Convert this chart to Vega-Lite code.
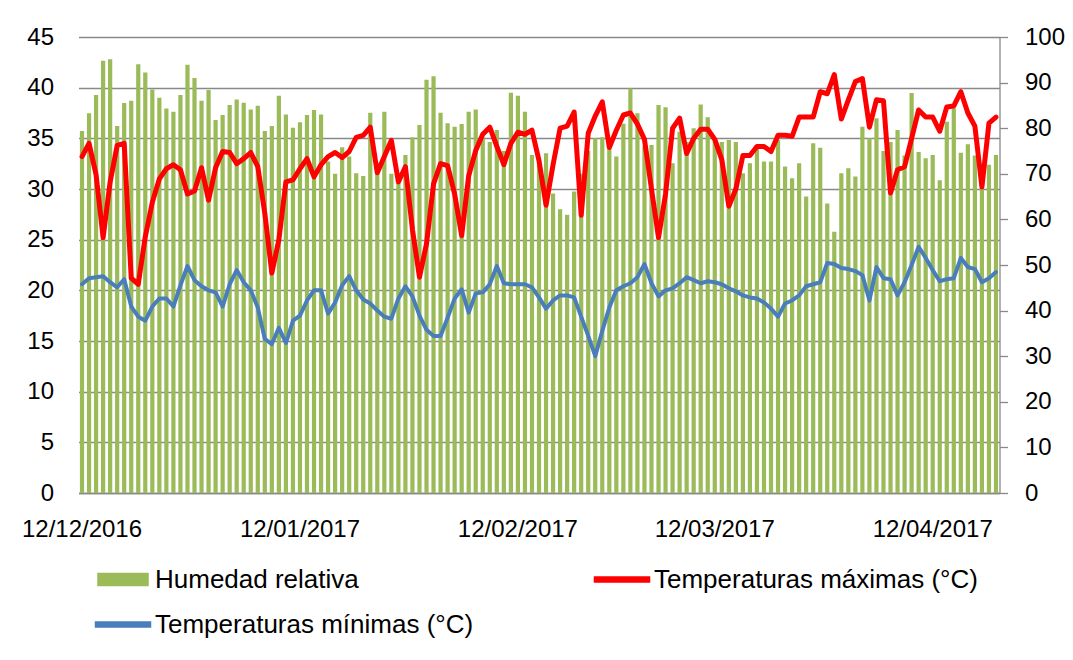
{
  "$schema": "https://vega.github.io/schema/vega-lite/v6.json",
  "width": 921,
  "height": 456,
  "autosize": {"type": "none"},
  "padding": {"left": 78.5, "top": 37, "right": 73.5, "bottom": 167},
  "background": "white",
  "config": {
    "view": {"stroke": null},
    "font": "Liberation Sans",
    "axis": {"labelFont": "Liberation Sans", "labelColor": "#000000", "labelFontSize": 24, "title": null}
  },
  "data": {
    "values": [
      {"fecha": "12/12/2016", "hr": 79.4, "tmax": 33.2, "tmin": 20.6},
      {"fecha": "13/12/2016", "hr": 83.3, "tmax": 34.5, "tmin": 21.2},
      {"fecha": "14/12/2016", "hr": 87.3, "tmax": 31.4, "tmin": 21.3},
      {"fecha": "15/12/2016", "hr": 94.8, "tmax": 25.2, "tmin": 21.4},
      {"fecha": "16/12/2016", "hr": 95.1, "tmax": 30.7, "tmin": 20.8},
      {"fecha": "17/12/2016", "hr": 80.5, "tmax": 34.3, "tmin": 20.3},
      {"fecha": "18/12/2016", "hr": 85.5, "tmax": 34.5, "tmin": 21.1},
      {"fecha": "19/12/2016", "hr": 86.0, "tmax": 21.2, "tmin": 18.4},
      {"fecha": "20/12/2016", "hr": 94.0, "tmax": 20.6, "tmin": 17.4},
      {"fecha": "21/12/2016", "hr": 92.2, "tmax": 25.3, "tmin": 17.0},
      {"fecha": "22/12/2016", "hr": 88.5, "tmax": 28.7, "tmin": 18.4},
      {"fecha": "23/12/2016", "hr": 86.7, "tmax": 31.0, "tmin": 19.2},
      {"fecha": "24/12/2016", "hr": 84.3, "tmax": 32.0, "tmin": 19.2},
      {"fecha": "25/12/2016", "hr": 83.6, "tmax": 32.4, "tmin": 18.4},
      {"fecha": "26/12/2016", "hr": 87.3, "tmax": 31.9, "tmin": 20.5},
      {"fecha": "27/12/2016", "hr": 93.9, "tmax": 29.5, "tmin": 22.4},
      {"fecha": "28/12/2016", "hr": 91.0, "tmax": 29.8, "tmin": 21.0},
      {"fecha": "29/12/2016", "hr": 86.0, "tmax": 32.1, "tmin": 20.4},
      {"fecha": "30/12/2016", "hr": 88.4, "tmax": 28.9, "tmin": 20.0},
      {"fecha": "31/12/2016", "hr": 81.8, "tmax": 32.1, "tmin": 19.8},
      {"fecha": "01/01/2017", "hr": 82.9, "tmax": 33.7, "tmin": 18.4},
      {"fecha": "02/01/2017", "hr": 85.1, "tmax": 33.6, "tmin": 20.6},
      {"fecha": "03/01/2017", "hr": 86.3, "tmax": 32.5, "tmin": 22.0},
      {"fecha": "04/01/2017", "hr": 85.6, "tmax": 33.0, "tmin": 20.8},
      {"fecha": "05/01/2017", "hr": 84.1, "tmax": 33.6, "tmin": 20.0},
      {"fecha": "06/01/2017", "hr": 84.9, "tmax": 32.2, "tmin": 18.3},
      {"fecha": "07/01/2017", "hr": 79.4, "tmax": 27.6, "tmin": 15.2},
      {"fecha": "08/01/2017", "hr": 80.5, "tmax": 21.7, "tmin": 14.7},
      {"fecha": "09/01/2017", "hr": 87.1, "tmax": 25.0, "tmin": 16.3},
      {"fecha": "10/01/2017", "hr": 83.0, "tmax": 30.7, "tmin": 14.8},
      {"fecha": "11/01/2017", "hr": 80.1, "tmax": 30.9, "tmin": 17.0},
      {"fecha": "12/01/2017", "hr": 81.3, "tmax": 32.0, "tmin": 17.5},
      {"fecha": "13/01/2017", "hr": 82.9, "tmax": 33.0, "tmin": 19.0},
      {"fecha": "14/01/2017", "hr": 84.0, "tmax": 31.2, "tmin": 20.0},
      {"fecha": "15/01/2017", "hr": 83.0, "tmax": 32.4, "tmin": 20.0},
      {"fecha": "16/01/2017", "hr": 72.7, "tmax": 33.2, "tmin": 17.7},
      {"fecha": "17/01/2017", "hr": 70.0, "tmax": 33.6, "tmin": 18.8},
      {"fecha": "18/01/2017", "hr": 75.8, "tmax": 33.1, "tmin": 20.5},
      {"fecha": "19/01/2017", "hr": 73.8, "tmax": 33.7, "tmin": 21.4},
      {"fecha": "20/01/2017", "hr": 70.1, "tmax": 35.1, "tmin": 20.0},
      {"fecha": "21/01/2017", "hr": 69.5, "tmax": 35.3, "tmin": 19.1},
      {"fecha": "22/01/2017", "hr": 83.4, "tmax": 36.1, "tmin": 18.7},
      {"fecha": "23/01/2017", "hr": 70.0, "tmax": 31.6, "tmin": 18.0},
      {"fecha": "24/01/2017", "hr": 83.6, "tmax": 33.2, "tmin": 17.4},
      {"fecha": "25/01/2017", "hr": 70.0, "tmax": 34.8, "tmin": 17.2},
      {"fecha": "26/01/2017", "hr": 69.0, "tmax": 30.7, "tmin": 19.2},
      {"fecha": "27/01/2017", "hr": 74.1, "tmax": 32.2, "tmin": 20.4},
      {"fecha": "28/01/2017", "hr": 78.0, "tmax": 26.0, "tmin": 19.4},
      {"fecha": "29/01/2017", "hr": 80.7, "tmax": 21.3, "tmin": 17.5},
      {"fecha": "30/01/2017", "hr": 90.6, "tmax": 24.6, "tmin": 16.1},
      {"fecha": "31/01/2017", "hr": 91.4, "tmax": 30.5, "tmin": 15.5},
      {"fecha": "01/02/2017", "hr": 83.4, "tmax": 32.5, "tmin": 15.5},
      {"fecha": "02/02/2017", "hr": 81.1, "tmax": 32.3, "tmin": 17.3},
      {"fecha": "03/02/2017", "hr": 80.3, "tmax": 29.5, "tmin": 19.2},
      {"fecha": "04/02/2017", "hr": 80.9, "tmax": 25.4, "tmin": 20.1},
      {"fecha": "05/02/2017", "hr": 83.6, "tmax": 31.3, "tmin": 17.8},
      {"fecha": "06/02/2017", "hr": 84.1, "tmax": 33.8, "tmin": 19.7},
      {"fecha": "07/02/2017", "hr": 78.0, "tmax": 35.4, "tmin": 19.8},
      {"fecha": "08/02/2017", "hr": 77.0, "tmax": 36.1, "tmin": 20.6},
      {"fecha": "09/02/2017", "hr": 79.6, "tmax": 34.2, "tmin": 22.4},
      {"fecha": "10/02/2017", "hr": 75.0, "tmax": 32.4, "tmin": 20.7},
      {"fecha": "11/02/2017", "hr": 87.8, "tmax": 34.5, "tmin": 20.6},
      {"fecha": "12/02/2017", "hr": 87.1, "tmax": 35.6, "tmin": 20.6},
      {"fecha": "13/02/2017", "hr": 83.6, "tmax": 35.4, "tmin": 20.6},
      {"fecha": "14/02/2017", "hr": 74.1, "tmax": 35.8, "tmin": 20.3},
      {"fecha": "15/02/2017", "hr": 72.0, "tmax": 32.8, "tmin": 19.3},
      {"fecha": "16/02/2017", "hr": 74.5, "tmax": 28.4, "tmin": 18.2},
      {"fecha": "17/02/2017", "hr": 65.7, "tmax": 32.4, "tmin": 19.0},
      {"fecha": "18/02/2017", "hr": 62.2, "tmax": 36.0, "tmin": 19.5},
      {"fecha": "19/02/2017", "hr": 61.0, "tmax": 36.2, "tmin": 19.5},
      {"fecha": "20/02/2017", "hr": 66.1, "tmax": 37.6, "tmin": 19.3},
      {"fecha": "21/02/2017", "hr": 70.0, "tmax": 27.4, "tmin": 17.4},
      {"fecha": "22/02/2017", "hr": 75.0, "tmax": 35.5, "tmin": 15.5},
      {"fecha": "23/02/2017", "hr": 77.8, "tmax": 37.2, "tmin": 13.5},
      {"fecha": "24/02/2017", "hr": 78.0, "tmax": 38.6, "tmin": 16.0},
      {"fecha": "25/02/2017", "hr": 75.6, "tmax": 34.1, "tmin": 18.3},
      {"fecha": "26/02/2017", "hr": 73.8, "tmax": 35.8, "tmin": 20.0},
      {"fecha": "27/02/2017", "hr": 81.0, "tmax": 37.3, "tmin": 20.4},
      {"fecha": "28/02/2017", "hr": 88.7, "tmax": 37.5, "tmin": 20.7},
      {"fecha": "01/03/2017", "hr": 83.3, "tmax": 36.4, "tmin": 21.3},
      {"fecha": "02/03/2017", "hr": 76.0, "tmax": 34.9, "tmin": 22.6},
      {"fecha": "03/03/2017", "hr": 76.3, "tmax": 30.0, "tmin": 20.7},
      {"fecha": "04/03/2017", "hr": 85.1, "tmax": 25.2, "tmin": 19.4},
      {"fecha": "05/03/2017", "hr": 84.6, "tmax": 29.5, "tmin": 20.0},
      {"fecha": "06/03/2017", "hr": 72.3, "tmax": 36.0, "tmin": 20.2},
      {"fecha": "07/03/2017", "hr": 79.2, "tmax": 37.0, "tmin": 20.7},
      {"fecha": "08/03/2017", "hr": 77.0, "tmax": 33.5, "tmin": 21.3},
      {"fecha": "09/03/2017", "hr": 80.0, "tmax": 35.0, "tmin": 21.0},
      {"fecha": "10/03/2017", "hr": 85.2, "tmax": 35.9, "tmin": 20.7},
      {"fecha": "11/03/2017", "hr": 82.4, "tmax": 35.9, "tmin": 20.9},
      {"fecha": "12/03/2017", "hr": 77.8, "tmax": 34.9, "tmin": 20.8},
      {"fecha": "13/03/2017", "hr": 77.0, "tmax": 32.9, "tmin": 20.6},
      {"fecha": "14/03/2017", "hr": 77.4, "tmax": 28.3, "tmin": 20.2},
      {"fecha": "15/03/2017", "hr": 77.0, "tmax": 30.0, "tmin": 19.9},
      {"fecha": "16/03/2017", "hr": 70.1, "tmax": 33.3, "tmin": 19.5},
      {"fecha": "17/03/2017", "hr": 72.3, "tmax": 33.3, "tmin": 19.3},
      {"fecha": "18/03/2017", "hr": 76.3, "tmax": 34.2, "tmin": 19.2},
      {"fecha": "19/03/2017", "hr": 72.7, "tmax": 34.2, "tmin": 18.8},
      {"fecha": "20/03/2017", "hr": 72.7, "tmax": 33.7, "tmin": 18.2},
      {"fecha": "21/03/2017", "hr": 77.4, "tmax": 35.3, "tmin": 17.4},
      {"fecha": "22/03/2017", "hr": 71.6, "tmax": 35.3, "tmin": 18.7},
      {"fecha": "23/03/2017", "hr": 69.0, "tmax": 35.2, "tmin": 19.0},
      {"fecha": "24/03/2017", "hr": 72.3, "tmax": 37.1, "tmin": 19.5},
      {"fecha": "25/03/2017", "hr": 65.0, "tmax": 37.1, "tmin": 20.4},
      {"fecha": "26/03/2017", "hr": 76.7, "tmax": 37.1, "tmin": 20.6},
      {"fecha": "27/03/2017", "hr": 75.7, "tmax": 39.6, "tmin": 20.8},
      {"fecha": "28/03/2017", "hr": 63.5, "tmax": 39.4, "tmin": 22.7},
      {"fecha": "29/03/2017", "hr": 57.3, "tmax": 41.3, "tmin": 22.6},
      {"fecha": "30/03/2017", "hr": 70.1, "tmax": 36.9, "tmin": 22.2},
      {"fecha": "31/03/2017", "hr": 71.2, "tmax": 38.8, "tmin": 22.1},
      {"fecha": "01/04/2017", "hr": 69.4, "tmax": 40.6, "tmin": 21.9},
      {"fecha": "02/04/2017", "hr": 80.3, "tmax": 40.9, "tmin": 21.5},
      {"fecha": "03/04/2017", "hr": 77.8, "tmax": 36.1, "tmin": 19.0},
      {"fecha": "04/04/2017", "hr": 82.2, "tmax": 38.8, "tmin": 22.3},
      {"fecha": "05/04/2017", "hr": 75.0, "tmax": 38.7, "tmin": 21.2},
      {"fecha": "06/04/2017", "hr": 77.0, "tmax": 29.6, "tmin": 21.1},
      {"fecha": "07/04/2017", "hr": 79.6, "tmax": 31.9, "tmin": 19.5},
      {"fecha": "08/04/2017", "hr": 74.0, "tmax": 32.2, "tmin": 20.8},
      {"fecha": "09/04/2017", "hr": 87.7, "tmax": 35.0, "tmin": 22.5},
      {"fecha": "10/04/2017", "hr": 74.8, "tmax": 37.8, "tmin": 24.3},
      {"fecha": "11/04/2017", "hr": 73.4, "tmax": 37.1, "tmin": 23.2},
      {"fecha": "12/04/2017", "hr": 74.1, "tmax": 37.1, "tmin": 22.0},
      {"fecha": "13/04/2017", "hr": 68.6, "tmax": 35.7, "tmin": 20.9},
      {"fecha": "14/04/2017", "hr": 81.4, "tmax": 38.1, "tmin": 21.1},
      {"fecha": "15/04/2017", "hr": 84.4, "tmax": 38.2, "tmin": 21.2},
      {"fecha": "16/04/2017", "hr": 74.6, "tmax": 39.6, "tmin": 23.2},
      {"fecha": "17/04/2017", "hr": 76.5, "tmax": 37.5, "tmin": 22.3},
      {"fecha": "18/04/2017", "hr": 74.0, "tmax": 36.2, "tmin": 22.1},
      {"fecha": "19/04/2017", "hr": 70.0, "tmax": 30.2, "tmin": 20.8},
      {"fecha": "20/04/2017", "hr": 72.0, "tmax": 36.5, "tmin": 21.2},
      {"fecha": "21/04/2017", "hr": 74.1, "tmax": 37.1, "tmin": 21.8}
    ]
  },
  "encoding": {
    "x": {
      "field": "fecha",
      "type": "ordinal",
      "sort": null,
      "scale": {"paddingInner": 0.4, "paddingOuter": 0.2},
      "axis": {
        "values": ["12/12/2016", "12/01/2017", "12/02/2017", "12/03/2017", "12/04/2017"],
        "labelAngle": 0,
        "ticks": false,
        "tickSize": 0,
        "labelPadding": 24,
        "labelBaseline": "top",
        "domainColor": "#898989",
        "domainWidth": 1.3,
        "grid": false
      }
    }
  },
  "layer": [
    {
      "mark": {"type": "bar"},
      "encoding": {
        "y": {
          "field": "hr",
          "type": "quantitative",
          "scale": {"domain": [0, 100], "nice": false},
          "axis": {
            "orient": "right",
            "values": [0, 10, 20, 30, 40, 50, 60, 70, 80, 90, 100],
            "grid": false,
            "domain": true,
            "domainColor": "#898989",
            "domainWidth": 1.3,
            "ticks": true,
            "tickColor": "#898989",
            "tickWidth": 1.3,
            "tickSize": 8,
            "labelPadding": 17
          }
        },
        "color": {
          "datum": "Humedad relativa",
          "type": "nominal",
          "scale": {
            "domain": ["Humedad relativa", "Temperaturas máximas (°C)", "Temperaturas mínimas (°C)"],
            "range": ["#9BBB59", "#FF0000", "#4A7EBB"]
          },
          "legend": {
            "title": null,
            "orient": "none",
            "legendX": 23.5,
            "legendY": 521.5,
            "columns": 2,
            "direction": "horizontal",
            "padding": 0,
            "labelFont": "Liberation Sans",
            "labelFontSize": 26,
            "labelColor": "#000000",
            "labelLimit": 500,
            "labelOffset": 11,
            "symbolSize": 1600,
            "columnPadding": 117,
            "rowPadding": 11,
            "symbolType": "square",
            "encode": {
              "symbols": {
                "update": {
                  "shape": {"signal": "datum.value === 'Humedad relativa' ? 'M-1.25,-0.3H1.25V0.3H-1.25Z' : 'M-1.375,-0.125H1.375V0.125H-1.375Z'"},
                  "fill": {"signal": "datum.value === 'Humedad relativa' ? '#9BBB59' : (datum.value === 'Temperaturas máximas (°C)' ? '#FF0000' : '#4A7EBB')"},
                  "stroke": {"value": "transparent"},
                  "opacity": {"value": 1},
                  "fillOpacity": {"value": 1}
                }
              }
            }
          }
        }
      }
    },
    {
      "mark": {"type": "line", "strokeWidth": 5, "strokeJoin": "round", "strokeCap": "round"},
      "encoding": {
        "y": {
          "field": "tmax",
          "type": "quantitative",
          "scale": {"domain": [0, 45], "nice": false},
          "axis": {
            "orient": "left",
            "values": [0, 5, 10, 15, 20, 25, 30, 35, 40, 45],
            "grid": true,
            "gridColor": "#898989",
            "gridWidth": 1.3,
            "domain": false,
            "ticks": false,
            "tickSize": 0,
            "labelPadding": 25
          }
        },
        "color": {"datum": "Temperaturas máximas (°C)", "type": "nominal"}
      }
    },
    {
      "mark": {"type": "line", "strokeWidth": 4, "strokeJoin": "round", "strokeCap": "round"},
      "encoding": {
        "y": {
          "field": "tmin",
          "type": "quantitative",
          "scale": {"domain": [0, 45], "nice": false},
          "axis": null
        },
        "color": {"datum": "Temperaturas mínimas (°C)", "type": "nominal"}
      }
    }
  ],
  "resolve": {"scale": {"y": "independent"}}
}
